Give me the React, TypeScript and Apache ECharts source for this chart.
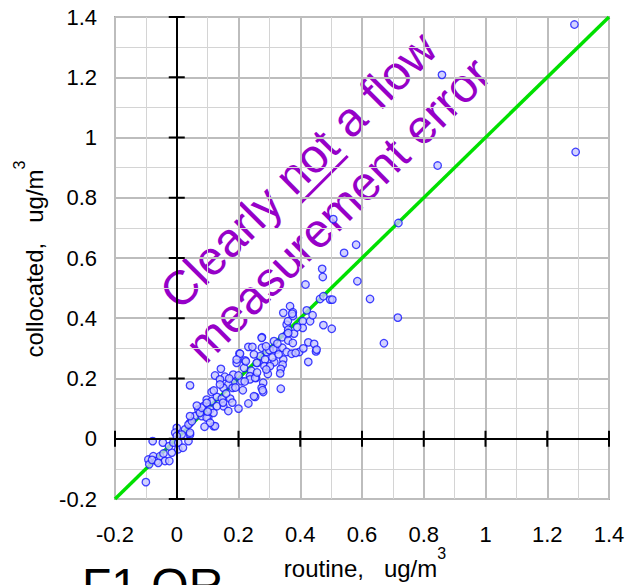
import React, { useEffect, useRef } from "react";
import * as echarts from "echarts";

const routine = [
  1.288, 1.292, 0.859, 0.845, 0.718, 0.581, 0.542, 0.507, 0.471, 0.473, 0.417, 0.585, 0.626, 0.716, 0.671,
  0.464, 0.475, 0.497, 0.504, 0.421, 0.367, 0.376, 0.376, 0.345, 0.408, 0.432, 0.408, 0.475, 0.502, 0.356,
  0.361, 0.38, 0.356, 0.276, 0.426, 0.445, 0.451, 0.426, 0.397, 0.342, 0.361, 0.376, 0.315, 0.232, 0.245,
  0.203, 0.276, 0.291, 0.324, 0.342, 0.356, 0.372, 0.385, 0.345, 0.343, 0.337, 0.335, 0.27, 0.286, 0.261,
  0.284, 0.316, 0.221, 0.194, 0.218, 0.241, 0.257, 0.237, 0.143, 0.124, 0.156, 0.183, 0.043, 0.205, 0.224,
  0.259, 0.3, 0.289, 0.313, 0.326, 0.361, 0.21, 0.183, 0.167, 0.151, 0.14, 0.237, 0.254, 0.28, 0.275,
  0.28, 0.254, 0.232, 0.337, 0.113, 0.097, 0.113, 0.13, 0.146, 0.173, 0.151, 0.167, 0.13, 0.086, 0.07,
  0.059, 0.081, 0.102, 0.119, 0.043, 0.027, 0, -0.005, 0.016, 0.043, -0.078, -0.1, -0.092, -0.089, -0.076,
  -0.065, -0.054, -0.043, -0.045, -0.038, -0.024, -0.016, -0.025, -0.011, 0.005, 0.005, 0, 0.038, 0.043, 0.038,
  0.049, 0.043, 0.075, 0.081, 0.097, 0.108, 0.119, 0.124, 0.097, 0.108, 0.194, 0.275, 0.374, 0.453, 0.41,
  0.278, 0.25, 0.181, 0.214, 0.302, 0.295, 0.12, 0.16, 0.19, 0.2, 0.22, 0.26, 0.29, 0.31, 0.33,
  0.18, 0.2, 0.15, 0.1, 0.09, 0.065, 0.14, 0.17, 0.25, 0.39, 0.44, 0.36, -0.08, -0.06, 0.02,
];
const collocated = [
  1.375, 0.952, 1.208, 0.907, 0.716, 0.644, 0.617, 0.729, 0.564, 0.537, 0.512, 0.523, 0.464, 0.402, 0.317,
  0.464, 0.473, 0.462, 0.462, 0.426, 0.44, 0.42, 0.407, 0.418, 0.39, 0.39, 0.368, 0.377, 0.365, 0.379,
  0.362, 0.349, 0.346, 0.337, 0.32, 0.315, 0.29, 0.255, 0.288, 0.337, 0.326, 0.318, 0.324, 0.305, 0.305,
  0.283, 0.302, 0.288, 0.296, 0.302, 0.288, 0.282, 0.285, 0.263, 0.246, 0.232, 0.217, 0.274, 0.263, 0.252,
  0.241, 0.254, 0.26, 0.252, 0.235, 0.226, 0.202, 0.208, 0.232, 0.21, 0.206, 0.213, 0.177, 0.282, 0.257,
  0.252, 0.294, 0.307, 0.298, 0.316, 0.351, 0.191, 0.186, 0.18, 0.169, 0.197, 0.197, 0.202, 0.186, 0.169,
  0.155, 0.139, 0.117, 0.166, 0.155, 0.13, 0.125, 0.139, 0.133, 0.133, 0.108, 0.092, 0.108, 0.108, 0.097,
  0.075, 0.075, 0.07, 0.042, 0.053, 0.031, 0.036, 0.02, 0.014, 0.014, -0.008, -0.144, -0.069, -0.085, -0.058,
  -0.074, -0.058, -0.049, -0.013, -0.074, -0.074, -0.046, -0.025, -0.013, -0.035, -0.013, 0.009, -0.008, 0.02, 0.047,
  0.058, 0.075, 0.086, 0.103, 0.119, 0.097, 0.086, 0.042, 0.07, 0.053, 0.263, 0.335, 0.415, 0.296, 0.3,
  0.161, 0.141, 0.169, 0.161, 0.241, 0.215, 0.16, 0.15, 0.17, 0.21, 0.19, 0.22, 0.23, 0.27, 0.28,
  0.12, 0.1, 0.12, 0.09, 0.04, 0.11, 0.18, 0.2, 0.28, 0.37, 0.41, 0.39, -0.07, -0.08, -0.03,
];
const axisTicks = [-0.2, 0, 0.2, 0.4, 0.6, 0.8, 1, 1.2, 1.4];
const oneToOne = [-0.2, 1.4];
const noteLine1 = "Clearly not a flow";
const noteLine2 = "measurement error";
const xTitle = "routine,   ug/m";
const yTitle = "collocated,   ug/m";
const panelLabel = "F1 OR";

const FONT = "Arial, 'Liberation Sans', sans-serif";

export default function App() {
  const ref = useRef<HTMLDivElement>(null);
  useEffect(() => {
    if (!ref.current) return;
    const chart = echarts.init(ref.current, undefined, { renderer: "svg" });
    const points = routine.map((x, i) => [x, collocated[i]]);
    const fmt = (v: number) => String(parseFloat(v.toFixed(1)));
    const axisCommon = {
      type: "value" as const,
      min: -0.2,
      max: 1.4,
      interval: 0.2,
      axisLine: { show: false, onZero: false },
      axisTick: { show: false },
      splitLine: { show: true, lineStyle: { color: "#bdbdbd", width: 2 } },
      minorTick: { show: false, splitNumber: 2 },
      minorSplitLine: { show: true, lineStyle: { color: "#d4d4d4", width: 1 } },
    };
    const purple = "#9600c8";
    const purpleFont = 48;
    const titleRich = {
      a: { fontSize: 24, fontFamily: FONT, lineHeight: 46, fill: "#000" },
      b: { fontSize: 16, fontFamily: FONT, lineHeight: 16, verticalAlign: "top", fill: "#000" },
    };
    chart.setOption({
      animation: false,
      backgroundColor: "#ffffff",
      grid: {
        left: 115,
        top: 17,
        width: 494,
        height: 482,
        show: true,
        borderColor: "#a8a8a8",
        borderWidth: 2,
        backgroundColor: "#ffffff",
      },
      xAxis: {
        ...axisCommon,
        axisLabel: { fontSize: 22, color: "#000", fontFamily: FONT, margin: 24, formatter: fmt },
      },
      yAxis: {
        ...axisCommon,
        axisLabel: { fontSize: 22, color: "#000", fontFamily: FONT, margin: 18, formatter: fmt },
      },
      series: [
        {
          type: "line",
          data: oneToOne.map((v) => [v, v]),
          symbol: "none",
          lineStyle: { color: "#00e000", width: 3.5 },
          silent: true,
          z: 2,
        },
        {
          type: "custom",
          data: axisTicks.map((v) => [v, v]),
          encode: { x: 0, y: 1 },
          silent: true,
          z: 3,
          renderItem: (params: any, api: any) => {
            const v = api.value(0);
            const px = api.coord([v, 0]);
            const py = api.coord([0, v]);
            return {
              type: "group",
              children: [
                {
                  type: "line",
                  shape: { x1: px[0], y1: px[1] - 8, x2: px[0], y2: px[1] + 8 },
                  style: { stroke: "#000", lineWidth: 2 },
                },
                {
                  type: "line",
                  shape: { x1: py[0] - 8, y1: py[1], x2: py[0] + 8, y2: py[1] },
                  style: { stroke: "#000", lineWidth: 2 },
                },
              ],
            };
          },
          markLine: {
            silent: true,
            symbol: "none",
            label: { show: false },
            lineStyle: { color: "#000", width: 2, type: "solid" },
            data: [{ xAxis: 0 }, { yAxis: 0 }],
          },
        },
        {
          type: "scatter",
          data: points,
          symbol: "circle",
          symbolSize: 7.5,
          itemStyle: { color: "#c8c8ff", borderColor: "#1414ff", borderWidth: 1.3 },
          z: 4,
        },
      ],
      graphic: [
        {
          type: "group",
          x: 318,
          y: 190,
          rotation: Math.PI / 4,
          z: 10,
          children: [
            {
              type: "text",
              x: 0,
              y: -28,
              style: {
                text: noteLine1,
                fill: purple,
                font: `${purpleFont}px ${FONT}`,
                textAlign: "center",
                textVerticalAlign: "middle",
              },
            },
            {
              type: "text",
              x: 0,
              y: 28,
              style: {
                text: noteLine2,
                fill: purple,
                font: `${purpleFont}px ${FONT}`,
                textAlign: "center",
                textVerticalAlign: "middle",
              },
            },
            {
              type: "line",
              shape: { x1: -21, y1: -3, x2: 45, y2: -3 },
              style: { stroke: purple, lineWidth: 3 },
            },
          ],
        },
        {
          type: "text",
          x: 365,
          y: 568,
          style: {
            text: `{a|${xTitle}}{b|3}`,
            textAlign: "center",
            textVerticalAlign: "middle",
            fill: "#000",
            rich: titleRich,
          },
        },
        {
          type: "text",
          x: 34,
          y: 259,
          rotation: Math.PI / 2,
          style: {
            text: `{a|${yTitle}}{b|3}`,
            textAlign: "center",
            textVerticalAlign: "middle",
            fill: "#000",
            rich: titleRich,
          },
        },
        {
          type: "text",
          left: 82,
          y: 585,
          style: {
            text: panelLabel,
            font: `48px ${FONT}`,
            fill: "#000",
            textVerticalAlign: "middle",
          },
        },
      ],
    });
    return () => chart.dispose();
  }, []);
  return <div ref={ref} style={{ width: 631, height: 585, position: "absolute", left: 0, top: 0 }} />;
}
